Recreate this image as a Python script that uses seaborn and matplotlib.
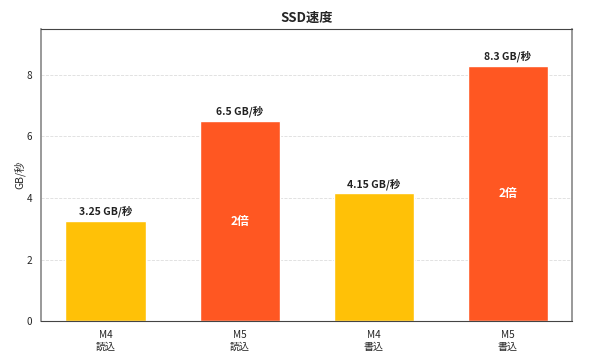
import matplotlib
matplotlib.use("Agg")
import matplotlib.pyplot as plt
import seaborn as sns
import pandas as pd

labels = ["M4\n読込", "M5\n読込", "M4\n書込", "M5\n書込"]
speeds = [3.25, 6.5, 4.15, 8.3]
value_labels = ["3.25 GB/秒", "6.5 GB/秒", "4.15 GB/秒", "8.3 GB/秒"]
ratio_labels = ["", "2倍", "", "2倍"]
colors = ["#FFC107", "#FF5722", "#FFC107", "#FF5722"]

sns.set_style("white")
plt.rcParams['font.family'] = ['Noto Sans CJK JP', 'DejaVu Sans']

df = pd.DataFrame({'label': labels, 'speed': speeds})

fig, ax = plt.subplots(figsize=(5.9, 3.57), dpi=100)
sns.barplot(data=df, x='label', y='speed', hue='label', palette=colors,
            legend=False, width=0.6, saturation=1, ax=ax)

for i, v in enumerate(speeds):
    ax.text(i, v + 0.12, value_labels[i], ha='center', va='bottom',
            fontsize=7.5, fontweight='bold', color='#222222')
    if ratio_labels[i]:
        ax.text(i, v / 2, ratio_labels[i], ha='center', va='center',
                fontsize=8.5, fontweight='bold', color='white')

ax.set_ylim(0, 9.5)
ax.set_xlim(-0.48, 3.48)
ax.set_title('SSD速度', fontsize=9.5, fontweight='bold', pad=5)
ax.set_ylabel('GB/秒', fontsize=7.5, labelpad=1)
ax.set_xlabel('')
ax.tick_params(axis='both', labelsize=7.2, length=3, width=0.6, color='#444444')
ax.yaxis.grid(True, linestyle='--', linewidth=0.6, color='#dddddd')
ax.set_axisbelow(True)
for side in ['top', 'bottom']:
    ax.spines[side].set_color('#444444')
    ax.spines[side].set_linewidth(0.8)
for side in ['left', 'right']:
    ax.spines[side].set_color('#888888')
    ax.spines[side].set_linewidth(1.2)

fig.subplots_adjust(left=0.07, right=0.97, top=0.92, bottom=0.10)
plt.savefig("out.png", dpi=100)
